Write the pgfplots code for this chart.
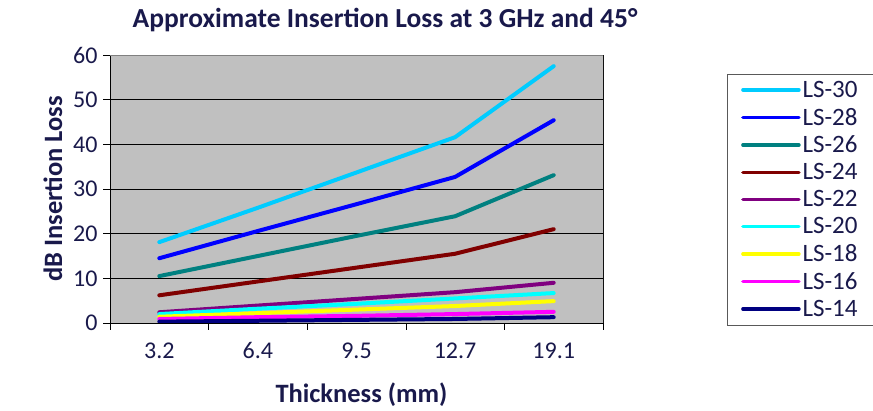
\documentclass[border=0pt]{standalone}
\usepackage{pgfplots}
\pgfplotsset{compat=1.18}
\usepackage{fontspec}
\setmainfont{Carlito}
\definecolor{txt}{RGB}{25,25,75}
\definecolor{ls30}{RGB}{0,204,255}
\definecolor{ls28}{RGB}{0,0,255}
\definecolor{ls26}{RGB}{0,128,128}
\definecolor{ls24}{RGB}{128,0,0}
\definecolor{ls22}{RGB}{128,0,128}
\definecolor{ls20}{RGB}{0,255,255}
\definecolor{ls18}{RGB}{255,255,0}
\definecolor{ls16}{RGB}{255,0,255}
\definecolor{ls14}{RGB}{0,0,128}
\definecolor{plotbg}{RGB}{192,192,192}
\begin{document}
\begin{tikzpicture}[x=1pt,y=1pt]
\useasboundingbox (0,0) rectangle (873,411);
\node[font=\fontsize{27.5}{30}\selectfont\bfseries, text=txt] at (385,391) {Approximate Insertion Loss at 3 GHz and 45°};
\begin{axis}[
  at={(110pt,88pt)}, anchor=south west,
  width=493pt, height=268pt, scale only axis,
  xmin=-0.5, xmax=4.5, ymin=0, ymax=60,
  axis background/.style={fill=plotbg},
  axis line style={draw=black, line width=0.8pt},
  xtick={-0.5,0.5,1.5,2.5,3.5,4.5}, xticklabels={},
  extra x ticks={0,1,2,3,4},
  extra x tick labels={3.2,6.4,9.5,12.7,19.1},
  extra x tick style={major tick length=0pt, grid=none},
  ytick={0,10,...,60},
  ymajorgrids, grid style={black, line width=0.6pt},
  tick align=outside, major tick length=7pt,
  tick style={black, line width=0.6pt},
  xtick pos=bottom, ytick pos=left,
  /pgf/number format/assume math mode=true,
  ticklabel style={font=\fontsize{24}{26}\selectfont, text=txt},
  xticklabel style={yshift=-16pt},
  yticklabel style={xshift=-2pt},
  xlabel={Thickness (mm)},
  ylabel={dB Insertion Loss},
  label style={font=\fontsize{26.5}{29}\selectfont\bfseries, text=txt},
  xlabel style={yshift=-10pt, xshift=5pt},
  ylabel style={yshift=4pt},
  every axis plot/.append style={line width=4pt, line join=round, line cap=round},
  legend style={at={(1.2515,0.93)}, anchor=north west, draw=gray!70!black,
    font=\fontsize{25}{27}\selectfont, text=txt, row sep=5.3pt,
    inner xsep=14pt, inner ysep=5pt, cells={anchor=west}},
  legend image code/.code={\draw[#1, line width=3.5pt] (0pt,0pt) -- (56pt,0pt);},
  legend cell align=left,
]
\addplot[ls30] coordinates {(0,18.1) (1,25.8) (2,33.7) (3,41.6) (4,57.5)};
\addlegendentry{LS-30}
\addplot[ls28] coordinates {(0,14.5) (1,20.6) (2,26.6) (3,32.7) (4,45.4)};
\addlegendentry{LS-28}
\addplot[ls26] coordinates {(0,10.5) (1,15.0) (2,19.5) (3,23.9) (4,33.1)};
\addlegendentry{LS-26}
\addplot[ls24] coordinates {(0,6.2) (1,9.3) (2,12.4) (3,15.5) (4,21.0)};
\addlegendentry{LS-24}
\addplot[ls22] coordinates {(0,2.4) (1,3.9) (2,5.4) (3,6.9) (4,9.0)};
\addlegendentry{LS-22}
\addplot[ls20] coordinates {(0,2.0) (1,3.2) (2,4.3) (3,5.5) (4,6.7)};
\addlegendentry{LS-20}
\addplot[ls18] coordinates {(0,1.4) (1,2.2) (2,3.0) (3,3.8) (4,4.9)};
\addlegendentry{LS-18}
\addplot[ls16] coordinates {(0,0.9) (1,1.3) (2,1.6) (3,2.0) (4,2.5)};
\addlegendentry{LS-16}
\addplot[ls14] coordinates {(0,0.3) (1,0.5) (2,0.7) (3,0.9) (4,1.3)};
\addlegendentry{LS-14}
\draw[gray, line width=0.8pt] (rel axis cs:0,1) -- (rel axis cs:1,1) -- (rel axis cs:1,0);
\end{axis}
\end{tikzpicture}
\end{document}
